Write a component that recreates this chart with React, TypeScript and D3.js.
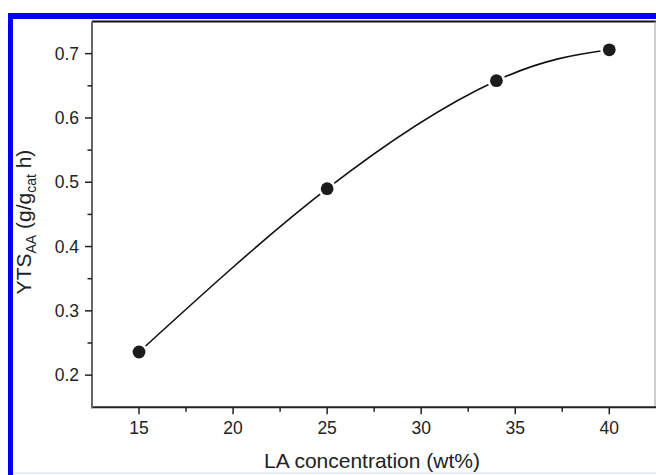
import React, { useEffect, useRef } from 'react';
import * as d3 from 'd3';

// LA concentration (wt%) vs YTS_AA
const concentrations = [15, 25, 34, 40];
const ytsValues = [0.236, 0.49, 0.658, 0.706];
const xMajorTicks = [15, 20, 25, 30, 35, 40];
const xMinorTicks = [17.5, 22.5, 27.5, 32.5, 37.5];
const yMajorTicks = [0.2, 0.3, 0.4, 0.5, 0.6, 0.7];
const yMinorTicks = [0.25, 0.35, 0.45, 0.55, 0.65];

const App = () => {
  const svgRef = useRef<SVGSVGElement>(null);

  useEffect(() => {
    const svg = d3.select(svgRef.current);
    svg.selectAll('*').remove(); // Clear existing content

    const W = 656;
    const H = 475;
    const left = 92;
    const right = 655;
    const top = 21.5;
    const bottom = 407.3;
    const font = '"Liberation Sans", Arial, sans-serif';

    const x = d3.scaleLinear().domain([12.5, 42.43]).range([left, right]);
    const y = d3.scaleLinear().domain([0.15, 0.75]).range([bottom, top]);

    svg.append('rect').attr('width', W).attr('height', H).attr('fill', '#fff');

    // blue page border
    svg.append('rect').attr('x', 8).attr('y', 13).attr('width', 5).attr('height', H - 13).attr('fill', '#0000f5');
    svg.append('rect').attr('x', 8).attr('y', 13).attr('width', W - 8).attr('height', 6).attr('fill', '#0000f5');
    svg.append('rect').attr('x', 13).attr('y', 472.5).attr('width', W - 13).attr('height', 1.5).attr('fill', '#dfe6ff');

    // frame
    svg.append('line').attr('x1', left).attr('x2', W).attr('y1', top).attr('y2', top)
      .attr('stroke', '#111').attr('stroke-width', 2);
    svg.append('line').attr('x1', right).attr('x2', right).attr('y1', top).attr('y2', bottom)
      .attr('stroke', '#999').attr('stroke-width', 1);

    // x axis
    const xAxis = svg.append('g');
    xAxis.append('line').attr('x1', left - 1).attr('x2', W).attr('y1', bottom).attr('y2', bottom)
      .attr('stroke', '#222').attr('stroke-width', 2);
    xAxis.selectAll('.xmaj').data(xMajorTicks).enter().append('line')
      .attr('x1', (d) => x(d)).attr('x2', (d) => x(d)).attr('y1', bottom).attr('y2', bottom + 7)
      .attr('stroke', '#222').attr('stroke-width', 1.5);
    xAxis.selectAll('.xmin').data(xMinorTicks).enter().append('line')
      .attr('x1', (d) => x(d)).attr('x2', (d) => x(d)).attr('y1', bottom).attr('y2', bottom + 4.5)
      .attr('stroke', '#222').attr('stroke-width', 1.5);
    xAxis.selectAll('text').data(xMajorTicks).enter().append('text')
      .attr('x', (d) => x(d)).attr('y', 433.5).attr('text-anchor', 'middle')
      .attr('font-family', font).attr('font-size', 17.5).attr('fill', '#222')
      .text((d) => d);

    // y axis
    const yAxis = svg.append('g');
    yAxis.append('line').attr('x1', left).attr('x2', left).attr('y1', top).attr('y2', bottom + 1)
      .attr('stroke', '#666').attr('stroke-width', 2);
    yAxis.selectAll('.ymaj').data(yMajorTicks).enter().append('line')
      .attr('x1', left - 7).attr('x2', left).attr('y1', (d) => y(d)).attr('y2', (d) => y(d))
      .attr('stroke', '#222').attr('stroke-width', 1.5);
    yAxis.selectAll('.ymin').data(yMinorTicks).enter().append('line')
      .attr('x1', left - 4.5).attr('x2', left).attr('y1', (d) => y(d)).attr('y2', (d) => y(d))
      .attr('stroke', '#222').attr('stroke-width', 1.5);
    yAxis.selectAll('text').data(yMajorTicks).enter().append('text')
      .attr('x', 79).attr('y', (d) => y(d) + 6.2).attr('text-anchor', 'end')
      .attr('font-family', font).attr('font-size', 17.5).attr('fill', '#222')
      .text((d) => d.toFixed(1));

    // axis titles
    svg.append('text').attr('x', 372).attr('y', 468).attr('text-anchor', 'middle')
      .attr('font-family', font).attr('font-size', 21).attr('fill', '#222')
      .text('LA concentration (wt%)');

    const yt = svg.append('text').attr('transform', 'translate(31,222) rotate(-90)')
      .attr('text-anchor', 'middle').attr('font-family', font).attr('font-size', 21).attr('fill', '#222');
    yt.append('tspan').text('YTS');
    yt.append('tspan').attr('font-size', 14).attr('dy', 5).text('AA');
    yt.append('tspan').attr('dy', -5).text(' (g/g');
    yt.append('tspan').attr('font-size', 14).attr('dy', 5).text('cat');
    yt.append('tspan').attr('dy', -5).text(' h)');

    // fitted curve
    const pts = concentrations.map((c, i) => [c, ytsValues[i]] as [number, number]);
    const line = d3.line<[number, number]>()
      .x((d) => x(d[0]))
      .y((d) => y(d[1]))
      .curve(d3.curveNatural);
    svg.append('path').attr('d', line(pts)).attr('fill', 'none')
      .attr('stroke', '#111').attr('stroke-width', 1.6);

    // markers: white halo gives the gap between curve and symbol
    svg.selectAll('.halo').data(pts).enter().append('circle')
      .attr('cx', (d) => x(d[0])).attr('cy', (d) => y(d[1])).attr('r', 9)
      .attr('fill', '#fff');
    svg.selectAll('.dot').data(pts).enter().append('circle')
      .attr('cx', (d) => x(d[0])).attr('cy', (d) => y(d[1])).attr('r', 6.4)
      .attr('fill', '#1c1c1c');
  }, []);

  return (
    <svg
      ref={svgRef}
      width={656}
      height={475}
      style={{ position: 'absolute', left: 0, top: 0, display: 'block' }}
    ></svg>
  );
};

export default App;
